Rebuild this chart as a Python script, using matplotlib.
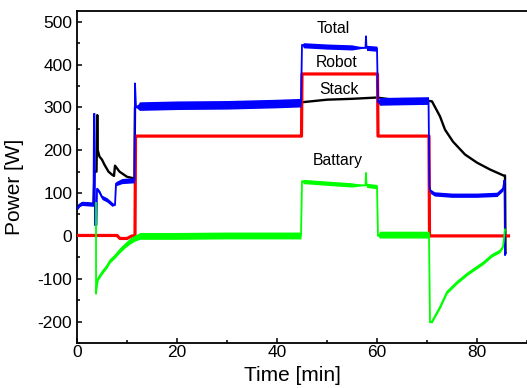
import matplotlib
matplotlib.use("Agg")
import matplotlib.pyplot as plt
import numpy as np
from matplotlib.ticker import MultipleLocator

plt.rcParams['font.family'] = ['Liberation Sans', 'DejaVu Sans']
plt.rcParams['axes.unicode_minus'] = False

# Total (blue): time [min], power [W], noise half-width [W]
time_total = [0, 0.5, 1.0, 3.3, 3.4, 3.5, 3.6, 3.9, 4.0, 4.5, 5.0, 6.0, 7.0, 7.6, 7.8,
              9.0, 11.5, 11.6, 11.8, 12.5, 20, 30, 40, 44.8, 45.0, 45.3, 50, 55, 57.7,
              57.8, 57.9, 60.0, 60.2, 60.5, 65, 70.3, 70.5, 70.7, 71.5, 75, 80, 84,
              85.2, 85.5, 85.6, 85.7]
total = [63, 72, 76, 74, 285, 285, 25, 25, 110, 102, 90, 84, 74, 72, 122,
         128, 130, 356, 300, 303, 305, 306, 309, 311, 446, 445, 442, 440, 439,
         466, 439, 437, 312, 314, 315, 316, 115, 104, 98, 95, 95, 97,
         110, 130, -45, -40]
total_noise = [3, 4, 5, 5, 0, 0, 0, 0, 4, 5, 5, 5, 5, 0, 5,
               6, 6, 0, 0, 10, 10, 10, 10, 10, 0, 6, 6, 6, 0,
               0, 6, 6, 0, 9, 9, 9, 0, 5, 5, 5, 5, 5,
               5, 0, 0, 0]

# Robot (red)
time_robot = [0, 8.0, 8.6, 10.0, 11.0, 11.6, 11.7, 44.9, 45.0, 60.1, 60.2, 70.4, 70.5, 86.3]
robot = [1, 1, -6, -6, 0, 0, 233, 233, 378, 378, 233, 233, 0, 0]

# Stack (black)
time_stack = [0, 0.5, 1.0, 3.3, 3.5, 3.9, 4.05, 4.15, 4.5, 5.0, 5.5, 6.3, 7.0, 7.4, 7.6,
              8.5, 10.0, 11.5, 11.6, 12.5, 20, 30, 40, 45, 50, 55, 60, 65, 70.5, 71.0,
              72.6, 73.6, 75.2, 77.6, 80.0, 82.6, 85.3, 85.6, 85.7]
stack = [63, 72, 76, 74, 150, 150, 282, 200, 185, 178, 166, 150, 143, 140, 164,
         150, 138, 134, 300, 303, 305, 306, 310, 312, 318, 320, 323, 315, 315, 314,
         279, 248, 220, 190, 171, 155, 141, 141, -40]

# Battary (green)
time_batt = [3.8, 3.81, 3.9, 4.2, 5.0, 6.0, 6.6, 7.5, 8.6, 9.6, 10.6, 11.6, 12.6, 20,
             30, 40, 44.8, 45.0, 45.3, 50, 55, 57.7, 57.8, 57.9, 60.0, 60.2, 60.5, 65,
             70.4, 70.6, 71.0, 72.6, 74.0, 76.0, 78.2, 81.2, 83.0, 84.6, 85.2, 85.6]
batt = [77, -135, -122, -100, -85, -70, -58, -48, -33, -22, -12, -5, 0, 0,
        1, 1, 1, 128, 127, 123, 119, 118, 147, 118, 115, 0, 3, 3,
        3, -202, -200, -166, -131, -108, -87, -63, -45, -35, -25, 15]
batt_noise = [0, 0, 3, 4, 5, 5, 5, 5, 6, 6, 7, 7, 8, 8,
              8, 8, 8, 0, 5, 5, 5, 0, 0, 5, 5, 0, 8, 8,
              8, 0, 3, 4, 4, 4, 4, 4, 4, 4, 3, 0]

labels = ['Total', 'Robot', 'Stack', 'Battary']
label_x = [51.2, 52.0, 52.3, 52.2]
label_y = [485, 404, 341, 176]


def noisy(ax, t, p, s, color, z):
    t = np.array(t); p = np.array(p); s = np.array(s)
    ax.fill_between(t, p - s, p + s, color=color, lw=0, zorder=z)
    ax.plot(t, p, color=color, lw=1.3, zorder=z)


fig = plt.figure(figsize=(5.27, 3.88), dpi=100)
ax = fig.add_axes([77/527, 45/388, 450/527, 332/388])

ax.plot(time_stack, stack, color='black', lw=1.7, zorder=2)
ax.plot(time_robot, robot, color='#ff0000', lw=2.3, zorder=3)
noisy(ax, time_total, total, total_noise, '#0000ff', 4)
noisy(ax, time_batt, batt, batt_noise, '#00ff00', 5)

for name, x, y in zip(labels, label_x, label_y):
    ax.text(x, y, name, ha='center', va='center', fontsize=11.3, zorder=6)

ax.set_xlim(0, 90)
ax.set_ylim(-250, 525)
ax.xaxis.set_major_locator(MultipleLocator(20))
ax.xaxis.set_minor_locator(MultipleLocator(10))
ax.yaxis.set_major_locator(MultipleLocator(100))
ax.yaxis.set_minor_locator(MultipleLocator(50))
ax.tick_params(which='both', direction='in', labelsize=12.5, width=1.1)
ax.tick_params(which='major', length=3.8)
ax.tick_params(which='minor', length=2.2)
ax.tick_params(axis='x', pad=1.5)
ax.tick_params(axis='y', pad=3.5)
for sp in ax.spines.values():
    sp.set_linewidth(1.3)
ax.spines['right'].set_visible(False)

ax.set_xlabel('Time [min]', fontsize=15)
ax.set_ylabel('Power [W]', fontsize=15)
ax.xaxis.set_label_coords(0.478, -0.068)
ax.yaxis.set_label_coords(-0.118, 0.47)

fig.savefig('out.png', dpi=100)
